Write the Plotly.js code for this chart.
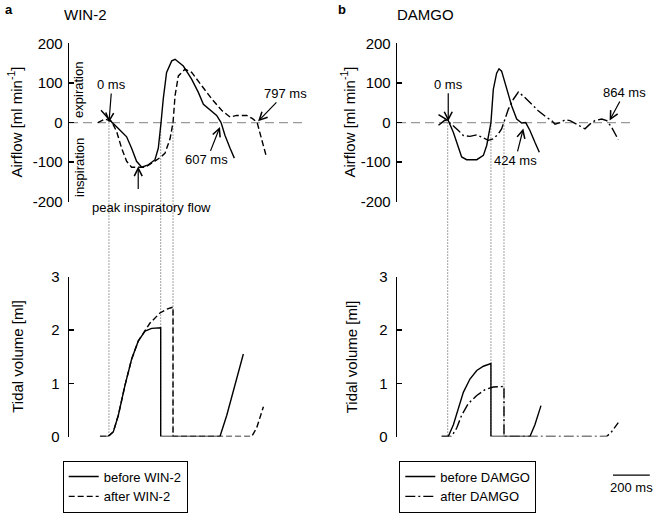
<!DOCTYPE html>
<html><head><meta charset="utf-8">
<script src="https://cdn.plot.ly/plotly-3.0.1.min.js"></script>
<style>html,body{margin:0;padding:0;background:#fff}</style>
</head><body><div id="chart" style="width:656px;height:513px"></div>
<script>
// ---------- DATA (time in ms, airflow in ml/min, volume in ml) ----------
const winBeforeFlowT = [-43, 5, 51, 96, 123, 150, 178, 214, 250, 268, 283, 295, 313, 341, 359, 404, 449, 485, 513, 549, 585, 609, 630, 658, 681];
const winBeforeFlow  = [31, 6, -15, -36, -65, -98, -113, -107, -94, -65, 0, 60, 127, 156, 160, 143, 110, 77, 46, 31, 18, 0, -32, -65, -90];
const winAfterFlowT  = [-60, -22, 14, 42, 69, 96, 123, 196, 232, 277, 304, 332, 348, 359, 377, 413, 449, 504, 558, 612, 658, 694, 748, 780, 805, 828, 855];
const winAfterFlow   = [0, 9, 3, -23, -65, -98, -113, -113, -103, -89, -78, -41, 0, 68, 118, 135, 127, 93, 60, 31, 14, 18, 18, 10, 0, -40, -86];

const winBeforeVolT = [-49, -5, 24, 51, 87, 123, 159, 196, 232, 268, 281, 281, 603, 640, 685, 730];
const winBeforeVol  = [0, 0, 0.09, 0.4, 0.96, 1.45, 1.79, 1.98, 2.03, 2.04, 2.04, 0, 0, 0.4, 0.96, 1.55];
const winAfterVolT  = [-49, -5, 24, 51, 87, 123, 159, 196, 223, 277, 313, 348, 348, 775, 802, 839];
const winAfterVol   = [0, 0, 0.09, 0.4, 0.96, 1.45, 1.79, 1.99, 2.13, 2.32, 2.39, 2.43, 0, 0, 0.16, 0.56];

const damBeforeFlowT = [-50, 3, 31, 58, 76, 103, 158, 194, 212, 235, 248, 266, 279, 293, 321, 348, 375, 402, 424, 447, 474, 498];
const damBeforeFlow  = [20, 5, -25, -66, -87, -94, -94, -83, -58, 0, 84, 125, 136, 130, 84, 42, 9, -1, 0, -20, -50, -75];
const damAfterFlowT  = [-50, -15, 5, 31, 58, 85, 121, 158, 194, 221, 248, 275, 293, 306, 330, 357, 384, 411, 447, 492, 538, 565, 583, 610, 638, 665, 701, 728, 746, 773, 800, 837, 864, 891, 909, 927];
const damAfterFlow   = [-7, 6, 2, -8, -20, -33, -35, -31, -40, -45, -41, -29, -16, 0, 34, 59, 77, 67, 50, 30, 13, 5, -4, 0, 7, 5, -4, -12, -16, -4, 5, 9, 5, -12, -29, -43];

const damBeforeVolT = [-33, 3, 31, 58, 85, 121, 158, 194, 235, 235, 447, 474, 507];
const damBeforeVol  = [0, 0, 0.22, 0.53, 0.83, 1.08, 1.24, 1.32, 1.37, 0, 0, 0.22, 0.58];
const damAfterVolT  = [-33, 20, 49, 76, 112, 158, 203, 248, 306, 306, 864, 891, 927];
const damAfterVol   = [0, 0, 0.16, 0.4, 0.62, 0.77, 0.88, 0.93, 0.94, 0, 0, 0.09, 0.26];

const winMarks = [0, 281, 348];   // start / end of inspiration (ms)
const damMarks = [0, 235, 306];
const flowTicks = [-200, -100, 0, 100, 200];
const volTicks = [0, 1, 2, 3];
const flowTitle = 'Airflow [ml min<sup>-1</sup>]';
const volTitle = 'Tidal volume [ml]';
const scaleBarMs = 200;

// ---------- LAYOUT ----------
const W = 656, H = 513;
const FONT = 'Liberation Sans, Arial, sans-serif';
const fx = p => p / W, fy = p => 1 - p / H;

const xLeft = {domain: [fx(69), fx(303)], range: [-217, 1054], visible: false, fixedrange: true};
const xRight = {domain: [fx(397), fx(635)], range: [-275.5, 1018], visible: false, fixedrange: true};
const topDom = [fy(204), fy(44)], botDom = [fy(441.7), fy(280)];

function yAx(dom, rng, ticks, anchor, standoff) {
  return {domain: dom, range: rng, anchor: anchor, tickvals: ticks, ticktext: ticks.map(String),
    showline: true, linecolor: '#000', linewidth: 1.3, ticks: 'inside', ticklen: 5, tickwidth: 1.3,
    tickcolor: '#000', showgrid: false, zeroline: false, fixedrange: true, ticklabelstandoff: standoff,
    tickfont: {size: 15, color: '#000', family: FONT}};
}

const blk = '#000';
const dashAfterWin = '6px,3px';
const dashAfterDam = '10px,3px,2px,3px';
function tr(x, y, xa, ya, dash, name, legend, show) {
  return {x: x, y: y, xaxis: xa, yaxis: ya, type: 'scatter', mode: 'lines', name: name,
    line: {color: blk, width: 1.4, dash: dash}, showlegend: show, legend: legend, hoverinfo: 'skip'};
}

const data = [
  tr(winBeforeFlowT, winBeforeFlow, 'x', 'y', 'solid', 'before WIN-2', 'legend', false),
  tr(winAfterFlowT, winAfterFlow, 'x', 'y', dashAfterWin, 'after WIN-2', 'legend', false),
  tr(damBeforeFlowT, damBeforeFlow, 'x2', 'y2', 'solid', 'before DAMGO', 'legend2', false),
  tr(damAfterFlowT, damAfterFlow, 'x2', 'y2', dashAfterDam, 'after DAMGO', 'legend2', false),
  tr(winBeforeVolT, winBeforeVol, 'x3', 'y3', 'solid', 'before WIN-2', 'legend', true),
  tr(winAfterVolT, winAfterVol, 'x3', 'y3', dashAfterWin, 'after WIN-2', 'legend', true),
  tr(damBeforeVolT, damBeforeVol, 'x4', 'y4', 'solid', 'before DAMGO', 'legend2', true),
  tr(damAfterVolT, damAfterVol, 'x4', 'y4', dashAfterDam, 'after DAMGO', 'legend2', true)
];

const zeroTop = (topDom[0] + topDom[1]) / 2;
const shapes = [];
[['x', 'y'], ['x2', 'y2']].forEach(([xa, ya]) => shapes.push({type: 'line', xref: xa + ' domain', yref: ya,
  x0: 0, x1: 1, y0: 0, y1: 0, line: {color: '#999', width: 1.3, dash: '9px,5px'}, layer: 'below'}));
winMarks.forEach(t => shapes.push({type: 'line', xref: 'x', yref: 'paper', x0: t, x1: t, y0: zeroTop, y1: botDom[0],
  line: {color: '#444', width: 1, dash: '1px,2px'}, layer: 'below'}));
damMarks.forEach(t => shapes.push({type: 'line', xref: 'x2', yref: 'paper', x0: t, x1: t, y0: zeroTop, y1: botDom[0],
  line: {color: '#444', width: 1, dash: '1px,2px'}, layer: 'below'}));
// scale bar: 200 ms at the right panel's time scale
const msToPaper = (xRight.domain[1] - xRight.domain[0]) / (xRight.range[1] - xRight.range[0]);
const sbX0 = fx(613), sbX1 = sbX0 + scaleBarMs * msToPaper;
shapes.push({type: 'line', xref: 'paper', yref: 'paper', x0: sbX0, x1: sbX1, y0: fy(480.7), y1: fy(480.7),
  line: {color: '#000', width: 1.3}});

const tf = s => ({size: s, color: '#000', family: FONT});
function arrow(xa, ya, x, y, text, ax, ay) {
  return {xref: xa, yref: ya, x: x, y: y, text: text, showarrow: true, ax: ax, ay: ay,
    arrowhead: 5, arrowsize: 1.3, arrowwidth: 1.2, arrowcolor: '#000', font: tf(13)};
}
function label(px, py, text, size, extra) {
  return Object.assign({xref: 'paper', yref: 'paper', x: fx(px), y: fy(py), xanchor: 'center', yanchor: 'middle',
    text: text, showarrow: false, font: tf(size)}, extra || {});
}
const annotations = [
  label(3, 10, '<b>a</b>', 13, {xanchor: 'left'}),
  label(336, 10, '<b>b</b>', 13, {xanchor: 'left'}),
  label(62, 15, 'WIN-2', 15, {xanchor: 'left'}),
  label(395, 15, 'DAMGO', 15, {xanchor: 'left'}),
  label(15, 124, flowTitle, 15, {textangle: -90}),
  label(348, 124, flowTitle, 15, {textangle: -90}),
  label(18, 361, volTitle, 15, {textangle: -90}),
  label(351.5, 361, volTitle, 15, {textangle: -90}),
  label(79, 91, 'expiration', 13, {textangle: -90}),
  label(79, 170, 'inspiration', 13, {textangle: -90}),
  arrow('x', 'y', 0, 0, '0 ms', 3, -38),
  arrow('x', 'y', 159, -111, '', 0, 24),
  label(151, 210, 'peak inspiratory flow', 13),
  arrow('x', 'y', 603, -11, '607 ms', -13, 33),
  arrow('x', 'y', 810, 3, '797 ms', 27, -28),
  arrow('x2', 'y2', 3, 3, '0 ms', 0, -37),
  arrow('x2', 'y2', 411, -15, '424 ms', -8, 32),
  arrow('x2', 'y2', 880, 5, '864 ms', 15, -28),
  {xref: 'paper', yref: 'paper', x: (sbX0 + sbX1) / 2, y: fy(493), xanchor: 'center', yanchor: 'middle',
   text: scaleBarMs + ' ms', showarrow: false, font: tf(13)}
];

const legStyle = {xanchor: 'left', yanchor: 'top', bordercolor: '#000', borderwidth: 1, bgcolor: '#fff',
  font: tf(13), tracegroupgap: 0, itemwidth: 30};

const layout = {
  width: W, height: H, margin: {l: 0, r: 0, t: 0, b: 0}, paper_bgcolor: '#fff', plot_bgcolor: 'rgba(0,0,0,0)',
  font: {family: FONT, color: '#000'},
  xaxis: Object.assign({anchor: 'y'}, xLeft),
  xaxis2: Object.assign({anchor: 'y2'}, xRight),
  xaxis3: Object.assign({anchor: 'y3'}, xLeft),
  xaxis4: Object.assign({anchor: 'y4'}, xRight),
  yaxis: yAx(topDom, [-200, 200], flowTicks, 'x', 2),
  yaxis2: yAx(topDom, [-200, 200], flowTicks, 'x2', 2),
  yaxis3: yAx(botDom, [0, 3], volTicks, 'x3', 5),
  yaxis4: yAx(botDom, [0, 3], volTicks, 'x4', 5),
  legend: Object.assign({x: fx(62.7), y: fy(466)}, legStyle),
  legend2: Object.assign({x: fx(399.3), y: fy(466)}, legStyle),
  shapes: shapes, annotations: annotations, showlegend: true
};

Plotly.newPlot('chart', data, layout, {staticPlot: true, displayModeBar: false});
</script></body></html>
